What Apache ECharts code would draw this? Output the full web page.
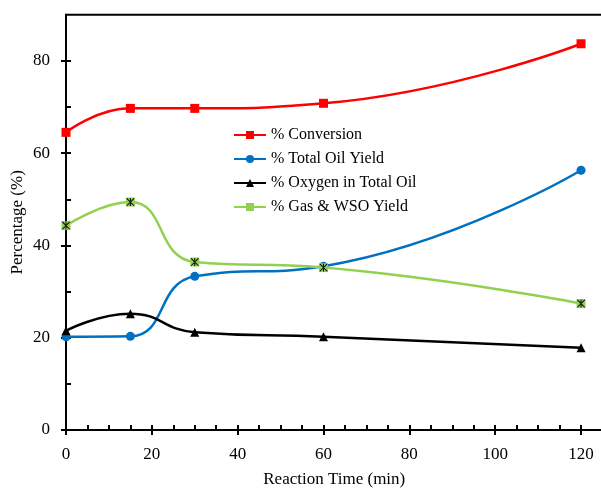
<!DOCTYPE html>
<html>
<head>
<meta charset="utf-8">
<script src="https://cdn.jsdelivr.net/npm/echarts@6/dist/echarts.min.js"></script>
<style>
  html, body { margin: 0; padding: 0; background: #fff; }
  #chart { width: 601px; height: 488px; }
</style>
</head>
<body>
<div id="chart"></div>
<script>
const reactionTime = [0, 15, 30, 60, 120];
const conversion = [64.5, 69.7, 69.7, 70.8, 83.7];
const totalOilYield = [20.2, 20.3, 33.3, 35.5, 56.3];
const oxygenInOil = [21.5, 25.2, 21.2, 20.2, 17.8];
const gasWsoYield = [44.3, 49.4, 36.4, 35.2, 27.4];

const xMajorTicks = [0, 20, 40, 60, 80, 100, 120];
const xMinorTicks = [0, 5, 10, 15, 20, 25, 30, 35, 40, 45, 50, 55, 60, 65, 70, 75, 80, 85, 90, 95, 100, 105, 110, 115, 120];
const yMajorTicks = [0, 20, 40, 60, 80];
const yMinorTicks = [0, 10, 20, 30, 40, 50, 60, 70, 80];

const font = 'Liberation Serif, Times New Roman, serif';
const starPath = 'path://M4.4,0 h1.2 v10 h-1.2 Z M0,0.8 L0.8,0 L10,9.2 L9.2,10 Z M10,0.8 L9.2,0 L0,9.2 L0.8,10 Z';

function pairs(ys) {
  return reactionTime.map((x, i) => [x, ys[i]]);
}

const chart = echarts.init(document.getElementById('chart'));

const tickStyle = { color: '#000', width: 2 };

const option = {
  animation: false,
  grid: {
    left: 66,
    top: 14.7,
    bottom: 58,
    right: -1.5,
    outerBoundsMode: 'none',
    show: true,
    borderColor: '#000',
    borderWidth: 2
  },
  legend: {
    data: ['% Conversion', '% Total Oil Yield', '% Oxygen in Total Oil', '% Gas & WSO Yield'],
    orient: 'vertical',
    left: 228,
    top: 122,
    itemWidth: 32,
    itemHeight: 10,
    itemGap: 8,
    textStyle: { fontFamily: font, fontSize: 16, color: '#000' }
  },
  xAxis: [
    {
      type: 'value',
      min: 0,
      max: 125,
      position: 'bottom',
      name: 'Reaction Time (min)',
      nameLocation: 'middle',
      nameGap: 41,
      nameTextStyle: { fontFamily: font, fontSize: 17, color: '#000' },
      axisLine: { show: true, lineStyle: { color: '#000', width: 2 } },
      axisTick: { show: true, inside: false, length: 5, customValues: xMajorTicks, lineStyle: tickStyle },
      axisLabel: { fontFamily: font, fontSize: 17, color: '#000', margin: 16, customValues: xMajorTicks },
      splitLine: { show: false }
    },
    {
      type: 'value',
      min: 0,
      max: 125,
      position: 'bottom',
      axisLine: { show: false },
      axisTick: { show: true, inside: true, length: 5, customValues: xMinorTicks, lineStyle: tickStyle },
      axisLabel: { show: false },
      splitLine: { show: false }
    }
  ],
  yAxis: [
    {
      type: 'value',
      min: 0,
      max: 90,
      position: 'left',
      name: 'Percentage (%)',
      nameLocation: 'middle',
      nameGap: 40,
      nameMoveOverlap: false,
      nameTextStyle: { fontFamily: font, fontSize: 17, color: '#000' },
      axisLine: { show: true, lineStyle: { color: '#000', width: 2 } },
      axisTick: { show: true, inside: false, length: 5, customValues: yMajorTicks, lineStyle: tickStyle },
      axisLabel: { fontFamily: font, fontSize: 17, color: '#000', margin: 16, customValues: yMajorTicks },
      splitLine: { show: false }
    },
    {
      type: 'value',
      min: 0,
      max: 90,
      position: 'left',
      axisLine: { show: false },
      axisTick: { show: true, inside: true, length: 5, customValues: yMinorTicks, lineStyle: tickStyle },
      axisLabel: { show: false },
      splitLine: { show: false }
    }
  ],
  series: [
    {
      name: '% Conversion',
      type: 'line',
      smooth: 0.5,
      data: pairs(conversion),
      symbol: 'rect',
      symbolSize: 9,
      color: '#FF0000',
      lineStyle: { color: '#FF0000', width: 2.5 },
      itemStyle: { color: '#FF0000' }
    },
    {
      name: '% Total Oil Yield',
      type: 'line',
      smooth: 0.5,
      data: pairs(totalOilYield),
      symbol: 'circle',
      symbolSize: 9,
      color: '#0070C0',
      lineStyle: { color: '#0070C0', width: 2.5 },
      itemStyle: { color: '#0070C0' }
    },
    {
      name: '% Oxygen in Total Oil',
      type: 'line',
      smooth: 0.5,
      data: pairs(oxygenInOil),
      symbol: 'triangle',
      symbolSize: 9,
      color: '#000000',
      lineStyle: { color: '#000000', width: 2.5 },
      itemStyle: { color: '#000000' }
    },
    {
      name: '% Gas & WSO Yield',
      type: 'line',
      smooth: 0.5,
      data: pairs(gasWsoYield),
      symbol: 'rect',
      symbolSize: 9,
      color: '#92D050',
      lineStyle: { color: '#92D050', width: 2.5 },
      itemStyle: { color: '#92D050' }
    },
    {
      name: 'gasStar',
      type: 'line',
      data: pairs(gasWsoYield),
      symbol: starPath,
      symbolSize: 8,
      silent: true,
      z: 5,
      lineStyle: { width: 0, opacity: 0 },
      itemStyle: { color: '#000' }
    }
  ]
};

chart.setOption(option);
</script>
</body>
</html>
